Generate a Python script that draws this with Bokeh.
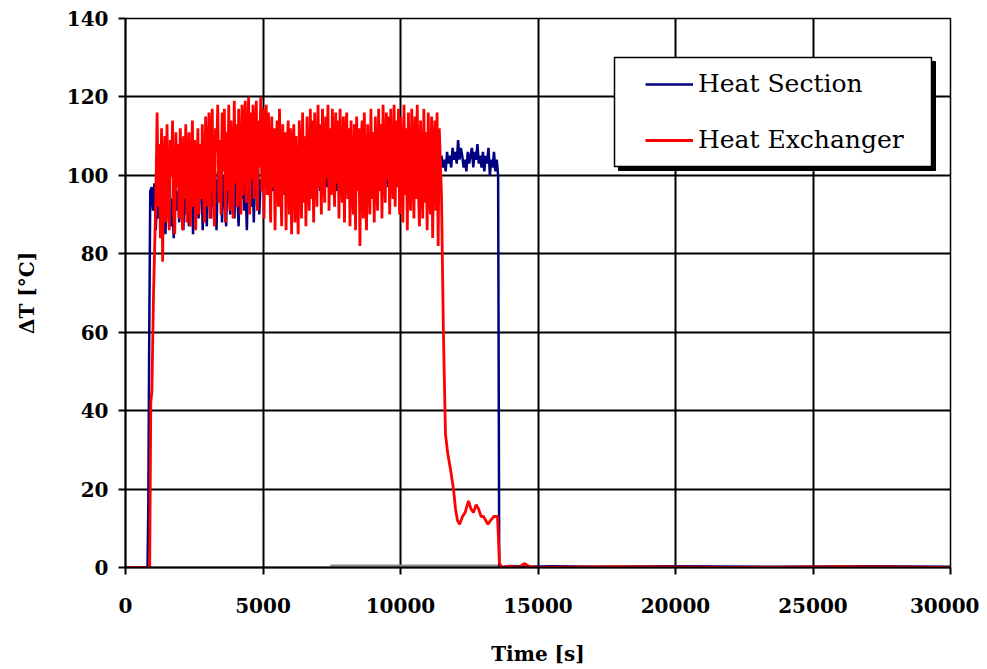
import numpy as np
from bokeh.plotting import figure
from bokeh.models import Range1d, FixedTicker, Legend, LegendItem, BasicTickFormatter
from bokeh.embed import file_html
from bokeh.resources import INLINE

# ---------------- data ----------------
X_TICKS = [0, 5000, 10000, 15000, 20000, 25000, 30000]
Y_TICKS = [0, 20, 40, 60, 80, 100, 120, 140]

# Heat Section (blue)
HS_START_T = [0, 800, 830, 860, 900]
HS_START_V = [0, 0, 16, 56, 96]
HS_NOISE_RANGE = (950, 13500)
HS_NOISE_V = [
    97, 91, 98, 86, 95, 89, 99, 84, 93, 97, 85, 96, 90, 100, 87, 94, 84, 98, 91, 96,
    88, 101, 93, 86, 99, 90, 103, 87, 96, 100, 85, 98, 92, 104, 89, 97, 101, 86, 99, 94,
    87, 103, 95, 89, 105, 92, 99, 86, 101, 96, 104, 88, 100, 93, 87, 102, 97, 90, 104, 95,
    89, 103, 96, 87, 101, 94, 105, 91, 98, 86, 102, 97, 92, 104, 88, 100, 95, 103, 90, 99,
    96, 102, 98, 101, 95, 103, 97, 100, 96, 102, 94, 101, 97, 103, 96, 99, 101, 95, 102, 97,
    100, 96, 103, 98, 95, 102, 97, 101, 96, 104, 98, 95, 102, 99, 96, 103, 97, 100, 95, 102,
    98, 103, 96, 101, 99, 95, 102, 97, 104, 98, 96, 101, 99, 103, 96, 100, 97, 102, 95, 101,
    97, 103, 99, 96, 102, 98, 104, 96, 100, 97, 103, 95, 101, 98, 102, 96, 104, 99, 97, 101,
    98, 102, 96, 103, 99, 97, 101, 95, 102, 98, 104, 97, 100, 96, 103, 98, 101, 97, 102, 99,
    97, 103, 98, 100, 96, 102, 99, 104, 97, 101, 98, 103, 96, 100, 99, 102, 97, 104, 98, 101,
    99, 103, 98, 102, 100, 104, 99, 101, 103, 100, 105, 102, 104, 101, 106, 103, 105, 102, 107, 104,
    106, 103, 109, 104, 107, 105, 102, 104, 101, 106, 103, 105, 107, 102, 106, 104, 108, 103, 105, 102,
    106, 101, 105, 103, 107, 100, 104, 102, 106, 101, 104,
]
HS_END_T = [13550, 13590, 14000, 14600, 15500, 17000, 20000, 24000, 27000, 30000]
HS_END_V = [100, 0, 0.4, 0.2, 0.3, 0.2, 0.3, 0.2, 0.3, 0.2]

# Heat Exchanger (red)
HX_START_T = [0, 880, 920, 960, 1020, 1100]
HX_START_V = [0, 0, 42, 45, 70, 93]
HX_NOISE_RANGE = (1150, 11410)
HX_NOISE_V = [
    116, 92, 108, 84, 112, 78, 104, 110, 88, 113, 95, 86, 109, 100, 114, 90, 85, 111, 97, 108,
    89, 112, 102, 86, 110, 94, 113, 88, 105, 111, 87, 97, 114, 92, 109, 86, 101, 112, 90, 108,
    94, 113, 99, 88, 115, 104, 92, 116, 89, 110, 117, 95, 87, 112, 106, 118, 93, 109, 90, 116,
    101, 117, 88, 111, 96, 118, 91, 114, 105, 89, 119, 98, 113, 92, 117, 103, 90, 118, 95, 112,
    119, 93, 107, 120, 90, 116, 99, 118, 94, 110, 119, 91, 114, 102, 120, 96, 117, 89, 113, 118,
    95, 116, 104, 88, 115, 97, 112, 86, 109, 114, 92, 117, 100, 87, 113, 95, 111, 86, 108, 114,
    90, 112, 85, 106, 113, 88, 110, 96, 85, 114, 102, 89, 116, 93, 110, 87, 115, 99, 91, 117,
    94, 114, 88, 116, 103, 92, 118, 97, 113, 90, 117, 106, 93, 115, 99, 118, 91, 112, 95, 117,
    104, 92, 116, 98, 114, 89, 117, 101, 93, 115, 88, 110, 116, 94, 112, 87, 114, 99, 90, 113,
    86, 115, 96, 112, 82, 108, 114, 89, 116, 97, 86, 113, 102, 90, 117, 94, 111, 88, 115, 100,
    91, 117, 96, 113, 89, 118, 104, 93, 116, 99, 115, 90, 117, 101, 94, 118, 92, 114, 97, 117,
    90, 115, 103, 88, 118, 95, 112, 86, 116, 99, 91, 117, 106, 89, 115, 94, 118, 97, 87, 114,
    100, 89, 117, 93, 111, 86, 116, 98, 90, 115, 84, 108, 114, 91, 116, 82, 112,
]
HX_END_T = [11490, 11560, 11636, 11720, 11818, 11927, 12000, 12072, 12150, 12254,
            12350, 12472, 12560, 12654, 12750, 12836, 12930, 13018, 13100, 13180,
            13272, 13400, 13527, 13600, 13700, 14000, 14300, 14500, 14700, 15000,
            18000, 22000, 26000, 30000]
HX_END_V = [95, 60, 34, 29, 25, 20, 15, 12, 11, 13,
            14, 17, 15, 14, 16, 15, 13, 13, 12, 11,
            12, 13, 13, 1, 0, 0.3, 0, 1, 0.2, 0,
            0.2, 0, 0.2, 0]

# grey baseline segment
GREY_T = [7450, 13650]
GREY_V = [0, 0]

# ---------------- assemble ----------------
hs_t = HS_START_T + list(np.linspace(*HS_NOISE_RANGE, len(HS_NOISE_V))) + HS_END_T
hs_v = HS_START_V + HS_NOISE_V + HS_END_V
hx_t = HX_START_T + list(np.linspace(*HX_NOISE_RANGE, len(HX_NOISE_V))) + HX_END_T
hx_v = HX_START_V + HX_NOISE_V + HX_END_V

X0, X1, Y0, Y1 = 0, 30000, 0, 140
FRAME_L, FRAME_T, FRAME_W, FRAME_H = 125, 18, 825, 549  # page px

p = figure(frame_width=FRAME_W, frame_height=FRAME_H,
           min_border_left=FRAME_L, min_border_top=FRAME_T,
           min_border_right=29, min_border_bottom=100,
           x_range=Range1d(X0, X1), y_range=Range1d(Y0, Y1),
           output_backend="svg", toolbar_location=None)

p.background_fill_color = "white"
p.border_fill_color = "white"
p.outline_line_color = "black"
p.outline_line_width = 1.5

for ax in (p.xaxis[0], p.yaxis[0]):
    ax.axis_line_color = "black"
    ax.axis_line_width = 2
    ax.major_tick_line_color = "black"
    ax.major_tick_line_width = 2
    ax.major_tick_out = 7
    ax.major_tick_in = 0
    ax.minor_tick_line_color = None
    ax.major_label_text_font = "DejaVu Serif"
    ax.major_label_text_font_style = "bold"
    ax.major_label_text_font_size = "20px"
    ax.major_label_text_color = "black"
    ax.axis_label_text_font = "DejaVu Serif"
    ax.axis_label_text_font_style = "bold"
    ax.axis_label_text_font_size = "20px"
    ax.axis_label_text_color = "black"

p.xaxis.ticker = FixedTicker(ticks=X_TICKS)
p.yaxis.ticker = FixedTicker(ticks=Y_TICKS)
p.xaxis.formatter = BasicTickFormatter(use_scientific=False)
p.xaxis.axis_label = "Time [s]"
p.yaxis.axis_label = "ΔT [°C]"
p.xaxis.major_label_standoff = 23
p.xaxis.axis_label_standoff = 26
p.yaxis.major_label_standoff = 10
p.yaxis.axis_label_standoff = 25

p.xgrid.ticker = FixedTicker(ticks=X_TICKS)
p.ygrid.ticker = FixedTicker(ticks=Y_TICKS)
for g in (p.xgrid[0], p.ygrid[0]):
    g.grid_line_color = "black"
    g.grid_line_width = 2
    g.grid_line_alpha = 1

p.line(GREY_T, GREY_V, line_color="#8c8c8c", line_width=6)
r_hs = p.line(hs_t, hs_v, line_color="#000080", line_width=2.5)
r_hx = p.line(hx_t, hx_v, line_color="#ff0000", line_width=2.8)

# legend box with shadow (positions converted from page pixels)
def px2x(px):
    return X0 + (px - FRAME_L) / FRAME_W * (X1 - X0)

def py2y(py):
    return Y1 - (py - FRAME_T) / FRAME_H * (Y1 - Y0)

BL, BR, BT, BB = 614, 931, 57, 166
SH = 4
p.quad(left=[px2x(BL + SH)], right=[px2x(BR + SH)], top=[py2y(BT + SH)], bottom=[py2y(BB + SH)],
       fill_color="black", line_color="black")
p.quad(left=[px2x(BL)], right=[px2x(BR)], top=[py2y(BT)], bottom=[py2y(BB)],
       fill_color="white", line_color="black", line_width=1.5)

legend = Legend(items=[LegendItem(label="Heat Section", renderers=[r_hs]),
                       LegendItem(label="Heat Exchanger", renderers=[r_hx])],
                location=(645 - FRAME_L, 567 - 154),
                padding=0, margin=0, spacing=27,
                glyph_width=48, glyph_height=28, label_height=28,
                label_standoff=5,
                label_text_font="DejaVu Serif", label_text_font_size="25px",
                label_text_color="black",
                background_fill_alpha=0, border_line_alpha=0)
p.add_layout(legend)

open("out.html", "w").write(file_html(p, INLINE))
